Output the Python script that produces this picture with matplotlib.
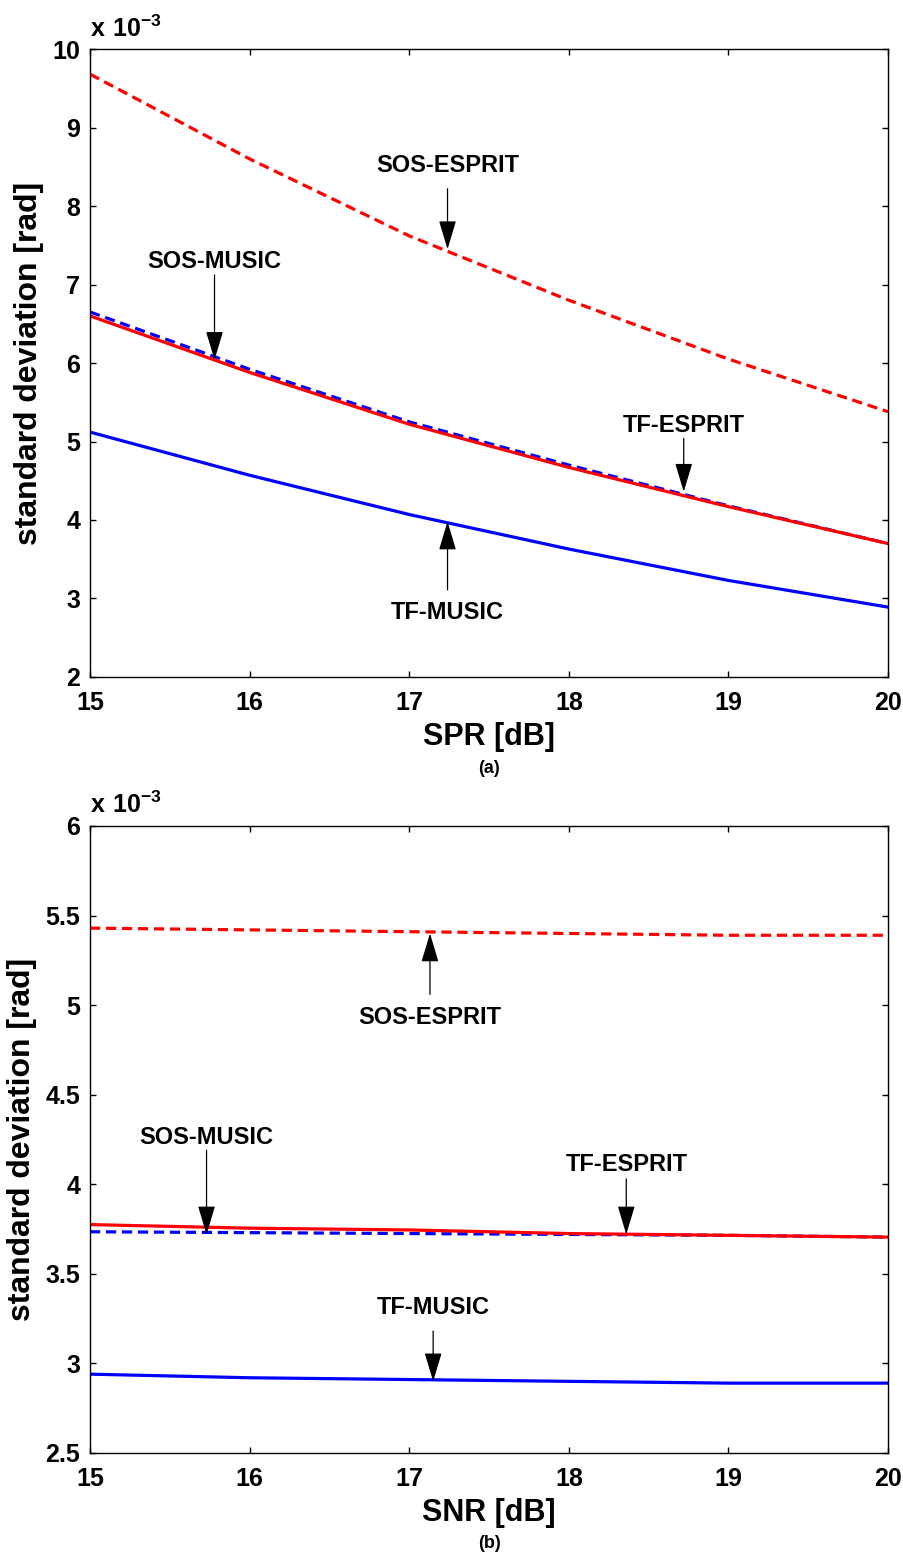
import numpy as np
import matplotlib
matplotlib.use('Agg')
import matplotlib.pyplot as plt

plt.rcParams['font.family'] = ['Liberation Sans', 'DejaVu Sans']
plt.rcParams['font.weight'] = 'bold'
plt.rcParams['mathtext.fontset'] = 'custom'
plt.rcParams['mathtext.bf'] = 'Liberation Sans:bold'
plt.rcParams['mathtext.rm'] = 'Liberation Sans:bold'

# eixo x comum (dB)
x_db = [15, 16, 17, 18, 19, 20]

# (a) desvio padrão em função da SPR  (x 10^-3 rad)
spr_sos_esprit = [9.68, 8.60, 7.62, 6.80, 6.05, 5.38]
spr_sos_music = [6.65, 5.92, 5.25, 4.70, 4.18, 3.70]
spr_tf_esprit = [6.60, 5.88, 5.22, 4.67, 4.17, 3.70]
spr_tf_music = [5.12, 4.57, 4.07, 3.63, 3.23, 2.89]

# (b) desvio padrão em função da SNR  (x 10^-3 rad)
snr_sos_esprit = [5.43, 5.42, 5.41, 5.40, 5.39, 5.39]
snr_sos_music = [3.735, 3.730, 3.725, 3.720, 3.715, 3.705]
snr_tf_esprit = [3.775, 3.755, 3.745, 3.725, 3.715, 3.705]
snr_tf_music = [2.94, 2.92, 2.91, 2.90, 2.89, 2.89]

# anotações: (texto, x_texto, y_texto, x_seta, y_inicio, y_ponta)
notes_a = [
    ('SOS-ESPRIT', 17.24, 8.52, 17.24, 8.22, 7.45),
    ('SOS-MUSIC', 15.78, 7.29, 15.78, 7.12, 6.04),
    ('TF-ESPRIT', 18.72, 5.21, 18.72, 5.04, 4.36),
    ('TF-MUSIC', 17.24, 2.82, 17.24, 3.11, 3.98),
]
notes_b = [
    ('SOS-ESPRIT', 17.13, 4.93, 17.13, 5.06, 5.40),
    ('SOS-MUSIC', 15.73, 4.26, 15.73, 4.19, 3.72),
    ('TF-ESPRIT', 18.36, 4.11, 18.36, 4.03, 3.72),
    ('TF-MUSIC', 17.15, 3.31, 17.15, 3.18, 2.90),
]

fig = plt.figure(figsize=(9.04, 15.57), dpi=100)
ax1 = fig.add_axes([0.0996, 0.5652, 0.8827, 0.4033])
ax2 = fig.add_axes([0.0996, 0.0668, 0.8827, 0.4027])


def desenha(ax, sos_esprit, sos_music, tf_esprit, tf_music, notes, ylim, yticks, ytl, xlabel, caption):
    lw = 2.3
    ax.plot(x_db, sos_esprit, color='#ff0000', linestyle='--', dashes=(3.2, 1.8), linewidth=lw)
    ax.plot(x_db, sos_music, color='#0000ff', linestyle='--', dashes=(3.2, 1.8), linewidth=lw)
    ax.plot(x_db, tf_esprit, color='#ff0000', linewidth=lw)
    ax.plot(x_db, tf_music, color='#0000ff', linewidth=lw)

    for txt, xt, yt, xa, y0, y1 in notes:
        ax.text(xt, yt, txt, ha='center', va='center', fontsize=17, fontweight='bold')
        ax.annotate('', xy=(xa, y1), xytext=(xa, y0),
                    arrowprops=dict(arrowstyle='-|>,head_length=1.0,head_width=0.3',
                                    color='black', lw=0.9, mutation_scale=18,
                                    shrinkA=0, shrinkB=0))

    ax.set_xlim(15, 20)
    ax.set_ylim(*ylim)
    ax.set_xticks(x_db)
    ax.set_xticklabels([str(v) for v in x_db])
    ax.set_yticks(yticks)
    ax.set_yticklabels(ytl)
    ax.tick_params(direction='in', length=4, width=1, top=True, right=True, labelsize=18)
    ax.tick_params(axis='x', pad=10)
    ax.tick_params(axis='y', pad=7)
    for lab in ax.get_xticklabels() + ax.get_yticklabels():
        lab.set_fontweight('bold')
    for s in ax.spines.values():
        s.set_linewidth(1.0)
    ax.set_xlabel(xlabel, fontsize=22, fontweight='bold', labelpad=5)
    ax.set_ylabel('standard deviation [rad]', fontsize=23, fontweight='bold', labelpad=6)
    ax.text(0.0, 1.012, r'$\mathbf{x\ 10^{-3}}$', transform=ax.transAxes,
            ha='left', va='bottom', fontsize=18)
    ax.text(0.5, -0.145, caption, transform=ax.transAxes, ha='center', va='center',
            fontsize=13, fontweight='bold')


desenha(ax1, spr_sos_esprit, spr_sos_music, spr_tf_esprit, spr_tf_music, notes_a,
        (2, 10), [2, 3, 4, 5, 6, 7, 8, 9, 10], ['2', '3', '4', '5', '6', '7', '8', '9', '10'],
        'SPR [dB]', '(a)')
desenha(ax2, snr_sos_esprit, snr_sos_music, snr_tf_esprit, snr_tf_music, notes_b,
        (2.5, 6), [2.5, 3, 3.5, 4, 4.5, 5, 5.5, 6], ['2.5', '3', '3.5', '4', '4.5', '5', '5.5', '6'],
        'SNR [dB]', '(b)')

plt.savefig('out.png', dpi=100)
